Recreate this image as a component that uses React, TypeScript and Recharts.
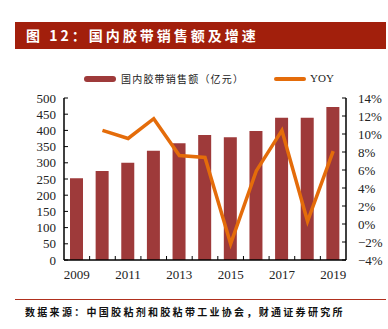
import React from 'react';
import { ComposedChart, Bar, Line, XAxis, YAxis } from 'recharts';

const years = ['2009', '2010', '2011', '2012', '2013', '2014', '2015', '2016', '2017', '2018', '2019'];
const sales = [252, 275, 300, 337, 360, 386, 379, 398, 439, 439, 472];
const yoy: (number | null)[] = [null, 10.4, 9.5, 11.7, 7.6, 7.4, -2.2, 5.9, 10.4, 0.3, 8.1];
const leftTicks = [0, 50, 100, 150, 200, 250, 300, 350, 400, 450, 500];
const rightTicks = [-4, -2, 0, 2, 4, 6, 8, 10, 12, 14];

const data = years.map((year, i) => ({ year, sales: sales[i], yoy: yoy[i] }));

const W = 388;
const H = 329;
const LEFT_W = 64;
const RIGHT_W = 42;
const band = (W - LEFT_W - RIGHT_W) / years.length;

const serif = '"Liberation Serif", "DejaVu Serif", serif';
const cjk = '"Noto Sans CJK SC", sans-serif';

const XTick = (props: any) => {
  const { x, y, payload, index } = props;
  const axisY = y - 9;
  return (
    <g>
      {index > 0 && (
        <line x1={x - band / 2} x2={x - band / 2} y1={axisY} y2={axisY - 4} stroke="#000" strokeWidth={1} />
      )}
      {index % 2 === 0 && (
        <text x={x} y={y} dy="0.8em" textAnchor="middle" fontFamily={serif} fontSize={13} fill="#222">
          {payload.value}
        </text>
      )}
    </g>
  );
};

const fmtPct = (v: number) => (v < 0 ? `\u2212${Math.abs(v)}%` : `${v}%`);

export default function App() {
  return (
    <div style={{ position: 'absolute', left: 0, top: 0, width: W, height: H, background: '#fff' }}>
      <div
        style={{
          position: 'absolute',
          left: 15,
          top: 22,
          width: 371,
          height: 27,
          background: '#A21F0C',
          color: '#fff',
          fontFamily: cjk,
          fontWeight: 700,
          fontSize: 14,
          lineHeight: '27px',
          paddingLeft: 11,
          boxSizing: 'border-box',
          letterSpacing: 3,
          whiteSpace: 'nowrap',
        }}
      >
        图 12：国内胶带销售额及增速
      </div>

      <div style={{ position: 'absolute', left: 84, top: 76, width: 32, height: 6, borderRadius: 3, background: '#9E3A3A' }} />
      <div
        style={{
          position: 'absolute',
          left: 121,
          top: 71,
          fontFamily: cjk,
          fontSize: 10,
          lineHeight: '15px',
          letterSpacing: 1.2,
          color: '#222',
          whiteSpace: 'nowrap',
        }}
      >
        国内胶带销售额（亿元）
      </div>
      <div style={{ position: 'absolute', left: 274, top: 77, width: 32, height: 3.5, borderRadius: 2, background: '#E46C0A' }} />
      <div
        style={{
          position: 'absolute',
          left: 310,
          top: 71,
          fontFamily: serif,
          fontSize: 11,
          lineHeight: '15px',
          color: '#222',
          whiteSpace: 'nowrap',
        }}
      >
        YOY
      </div>

      <div style={{ position: 'absolute', left: 0, top: 0 }}>
        <ComposedChart
          width={W}
          height={H}
          data={data}
          margin={{ top: 98, right: 0, bottom: 39, left: 0 }}
        >
          <XAxis
            dataKey="year"
            interval={0}
            height={30}
            tickSize={0}
            tickMargin={9}
            tickLine={false}
            axisLine={{ stroke: '#000', strokeWidth: 1.5 }}
            tick={<XTick />}
          />
          <YAxis
            yAxisId="left"
            orientation="left"
            width={LEFT_W}
            domain={[0, 500]}
            ticks={leftTicks}
            interval={0}
            tickSize={-4}
            tickMargin={12}
            axisLine={{ stroke: '#000', strokeWidth: 1.5 }}
            tickLine={{ stroke: '#000' }}
            tick={{ fontFamily: serif, fontSize: 13, fill: '#222' }}
          />
          <YAxis
            yAxisId="right"
            orientation="right"
            width={RIGHT_W}
            domain={[-4, 14]}
            ticks={rightTicks}
            interval={0}
            tickSize={-4}
            tickMargin={16}
            tickFormatter={fmtPct}
            axisLine={{ stroke: '#000', strokeWidth: 1.5 }}
            tickLine={{ stroke: '#000' }}
            tick={{ fontFamily: serif, fontSize: 13, fill: '#222', textAnchor: 'start' }}
          />
          <Bar yAxisId="left" dataKey="sales" fill="#9E3A3A" barSize={13} isAnimationActive={false} />
          <Line
            yAxisId="right"
            dataKey="yoy"
            type="linear"
            stroke="#E46C0A"
            strokeWidth={3.5}
            dot={false}
            activeDot={false}
            isAnimationActive={false}
          />
        </ComposedChart>
      </div>

      <div style={{ position: 'absolute', left: 15, top: 299, width: 371, height: 1, background: '#B0301E' }} />
      <div
        style={{
          position: 'absolute',
          left: 25,
          top: 304,
          fontFamily: cjk,
          fontWeight: 700,
          fontSize: 10,
          lineHeight: '15px',
          letterSpacing: 2.3,
          color: '#111',
          whiteSpace: 'nowrap',
        }}
      >
        数据来源：中国胶粘剂和胶粘带工业协会，财通证券研究所
      </div>
    </div>
  );
}
